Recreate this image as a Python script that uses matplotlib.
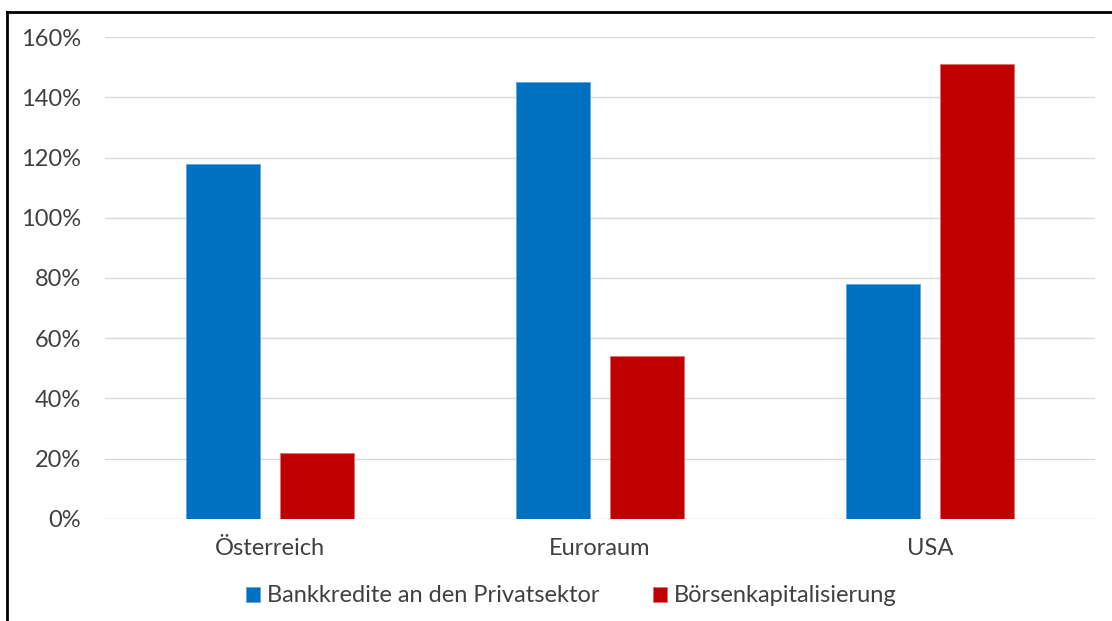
import numpy as np
import matplotlib
matplotlib.use('Agg')
import matplotlib.pyplot as plt
from matplotlib.lines import Line2D
from matplotlib.ticker import FuncFormatter

categories = ['Österreich', 'Euroraum', 'USA']
bankkredite = [118, 145, 78]
boerse = [22, 54, 151]
series_names = ['Bankkredite an den Privatsektor', 'Börsenkapitalisierung']
yticks = [0, 20, 40, 60, 80, 100, 120, 140, 160]

plt.rcParams['font.family'] = ['Lato', 'DejaVu Sans']
text_col = '#404040'

fig = plt.figure(figsize=(11.12, 6.21), dpi=100)
ax = fig.add_axes([0.0944, 0.1643, 0.8903, 0.7761])

x = np.arange(len(categories))
w = 0.224
ax.bar(x - 0.142, bankkredite, w, color='#0070c0', edgecolor='#5fa8e0', linewidth=0.6,
       label=series_names[0], zorder=3)
ax.bar(x + 0.142, boerse, w, color='#c00000', edgecolor='#e07070', linewidth=0.6,
       label=series_names[1], zorder=3)

ax.set_xlim(-0.5, 2.5)
ax.set_ylim(0, 160)
ax.set_yticks(yticks)
ax.yaxis.set_major_formatter(FuncFormatter(lambda v, p: '%d%%' % v))
ax.set_xticks(x)
ax.set_xticklabels(categories)
ax.grid(axis='y', color='#d9d9d9', linewidth=1.0, zorder=0)
for s in ax.spines.values():
    s.set_visible(False)
ax.tick_params(axis='both', length=0, labelsize=17, colors=text_col)
ax.tick_params(axis='y', pad=17)
ax.tick_params(axis='x', pad=14)

leg = fig.legend(loc='center', bbox_to_anchor=(0.514, 1 - 596 / 621), ncol=2, frameon=False,
                 fontsize=17, handlelength=0.6, handleheight=0.6, handletextpad=0.3,
                 columnspacing=2.25)
for t in leg.get_texts():
    t.set_color(text_col)

# frame around the chart (left and top edges visible)
fig.add_artist(Line2D([7 / 1112, 7 / 1112], [0, 1 - 12 / 621], color='black', linewidth=2,
                      transform=fig.transFigure))
fig.add_artist(Line2D([7 / 1112, 1], [1 - 12 / 621, 1 - 12 / 621], color='black', linewidth=2,
                      transform=fig.transFigure))

fig.savefig('out.png', dpi=100)
